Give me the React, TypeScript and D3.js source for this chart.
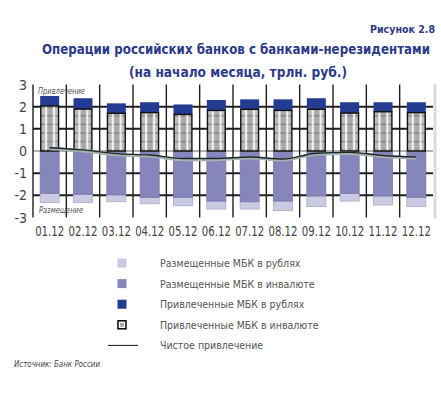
import React from "react";
import * as d3 from "d3";

// данные на начало месяца, трлн руб.
const months = ["01.12", "02.12", "03.12", "04.12", "05.12", "06.12", "07.12", "08.12", "09.12", "10.12", "11.12", "12.12"];
const attractedFx = [2.03, 1.89, 1.7, 1.73, 1.65, 1.83, 1.88, 1.83, 1.88, 1.71, 1.77, 1.73];
const attractedRub = [0.45, 0.49, 0.45, 0.47, 0.45, 0.47, 0.45, 0.5, 0.5, 0.49, 0.43, 0.47];
const placedFx = [-1.91, -1.95, -1.98, -2.1, -2.1, -2.26, -2.29, -2.26, -2.03, -1.91, -2.03, -2.1];
const placedRub = [-0.41, -0.37, -0.31, -0.28, -0.37, -0.36, -0.33, -0.43, -0.48, -0.35, -0.41, -0.41];
const netAttracted = [0.15, 0.05, -0.12, -0.18, -0.34, -0.34, -0.27, -0.36, -0.1, -0.06, -0.2, -0.27];
const yTicks = [3, 2, 1, 0, -1, -2, -3];
const legendLabels = [
  "Размещенные МБК в рублях",
  "Размещенные МБК в инвалюте",
  "Привлеченные МБК в рублях",
  "Привлеченные МБК в инвалюте",
  "Чистое привлечение",
];

const NAVY = "#2c3a8a";
const BLUE = "#233b91";
const PURPLE = "#8686bd";
const LIGHT = "#cacae2";
const FONT = "'DejaVu Sans Condensed', 'Liberation Sans Narrow', 'Arial Narrow', sans-serif";

export default function App() {
  const left = 33;
  const right = 433;
  const top = 84.5;
  const bottom = 217.5;

  const x = d3.scaleBand().domain(months).range([left, right]).paddingInner(0).paddingOuter(0);
  const y = d3.scaleLinear().domain([-3, 3]).range([bottom, top]);
  const bw = 19;
  const bx = (m: string) => (x(m) as number) + (x.bandwidth() - bw) / 2;
  const cx = (m: string) => (x(m) as number) + x.bandwidth() / 2;

  const line = d3
    .line<number>()
    .x((_, i) => cx(months[i]))
    .y((d) => y(d))
    .curve(d3.curveMonotoneX);
  const netPath = line(netAttracted) || "";

  const bounds = x.domain().map((m) => x(m) as number).concat([right]);

  return (
    <svg width={441} height={393} style={{ position: "absolute", left: 0, top: 0, background: "#fff" }}>
      <defs>
        <pattern id="fxPat" patternUnits="userSpaceOnUse" x={bx(months[0])} y={0} width={x.step()} height={8.6}>
          <rect x={0} y={0} width={x.step()} height={8.6} fill="#bcbcbc" />
          <rect x={8} y={0} width={4} height={8.6} fill="#a8a8a8" />
          <line x1={0} x2={bw} y1={4} y2={4} stroke="#7a7a7a" strokeWidth={1.1} />
          <rect x={5} y={0} width={1.8} height={8.6} fill="#f6f6f6" />
          <rect x={13} y={0} width={1.8} height={8.6} fill="#f6f6f6" />
        </pattern>
      </defs>

      {/* заголовок */}
      <text x={435} y={33} textAnchor="end" fill={NAVY} fontFamily={FONT} fontWeight="bold" fontSize={10.5} textLength={65} lengthAdjust="spacingAndGlyphs">
        Рисунок 2.8
      </text>
      <text x={236} y={54} textAnchor="middle" fill={NAVY} fontFamily={FONT} fontWeight="bold" fontSize={13.5} textLength={388} lengthAdjust="spacingAndGlyphs">
        Операции российских банков с банками-нерезидентами
      </text>
      <text x={238} y={77} textAnchor="middle" fill={NAVY} fontFamily={FONT} fontWeight="bold" fontSize={14} textLength={218} lengthAdjust="spacingAndGlyphs">
        (на начало месяца, трлн. руб.)
      </text>

      {/* сетка */}
      {yTicks.filter((t) => t !== 0 && Math.abs(t) !== 3).map((t) => (
        <line key={"h" + t} x1={left} x2={right} y1={y(t)} y2={y(t)} stroke="#1e1e1e" strokeWidth={2} />
      ))}
      <line x1={left} x2={right} y1={y(0)} y2={y(0)} stroke="#666" strokeWidth={1} />
      {bounds.slice(1, -1).map((b, i) => (
        <line key={"v" + i} x1={b} x2={b} y1={top} y2={bottom} stroke="#1e1e1e" strokeWidth={1.4} />
      ))}
      <line x1={left} x2={left} y1={top} y2={bottom} stroke="#1e1e1e" strokeWidth={1.4} />
      <rect x={right + 0.5} y={top} width={3} height={bottom - top + 1} fill="#dcdcdc" />

      {/* столбцы */}
      {months.map((m, i) => {
        const xb = bx(m);
        const fxTop = y(attractedFx[i]);
        const rubTop = y(attractedFx[i] + attractedRub[i]);
        const pfx = y(placedFx[i]);
        const prub = y(placedFx[i] + placedRub[i]);
        return (
          <g key={m}>
            <rect x={xb} y={pfx} width={bw} height={prub - pfx} fill={LIGHT} stroke="#ababcb" strokeWidth={0.8} />
            <rect x={xb} y={y(0)} width={bw} height={pfx - y(0)} fill={PURPLE} stroke="#7878ae" strokeWidth={0.8} />
            <rect x={xb} y={rubTop} width={bw} height={fxTop - rubTop} fill={BLUE} />
            <rect x={xb + 0.6} y={fxTop} width={bw - 1.2} height={y(0) - fxTop} fill="url(#fxPat)" stroke="#111" strokeWidth={1.4} />
          </g>
        );
      })}

      {/* чистое привлечение */}
      <path d={netPath} fill="none" stroke="#a9b1b1" strokeWidth={3.2} transform="translate(0,1)" />
      <path d={netPath} fill="none" stroke="#1b2a2a" strokeWidth={1.4} />

      {/* подписи внутри области */}
      <text x={38} y={94} fill="#555" fontFamily={FONT} fontStyle="italic" fontSize={9.5} textLength={47} lengthAdjust="spacingAndGlyphs">
        Привлечение
      </text>
      <text x={39} y={213} fill="#555" fontFamily={FONT} fontStyle="italic" fontSize={9.5} textLength={44} lengthAdjust="spacingAndGlyphs">
        Размещение
      </text>

      {/* оси */}
      {yTicks.map((t) => (
        <text key={"yl" + t} x={27} y={y(t) + 5} textAnchor="end" fill="#444" fontFamily={FONT} fontSize={14}>
          {t}
        </text>
      ))}
      {months.map((m) => (
        <text key={"xl" + m} x={cx(m)} y={236} textAnchor="middle" fill="#444" fontFamily={FONT} fontSize={13.5} textLength={29} lengthAdjust="spacingAndGlyphs">
          {m}
        </text>
      ))}

      {/* легенда */}
      {legendLabels.map((l, i) => {
        const ly = 263 + i * 20.6;
        let mark: React.ReactNode = null;
        if (i === 0) mark = <rect x={117.5} y={ly - 4.5} width={9} height={9} fill={LIGHT} />;
        if (i === 1) mark = <rect x={117.5} y={ly - 4.5} width={9} height={9} fill={PURPLE} />;
        if (i === 2) mark = <rect x={117.5} y={ly - 4.5} width={9} height={9} fill={BLUE} />;
        if (i === 3)
          mark = (
            <g>
              <rect x={118} y={ly - 4} width={8} height={8} fill="#fff" stroke="#111" strokeWidth={1.6} />
              <rect x={120} y={ly - 2} width={4} height={4} fill="#aaa" />
            </g>
          );
        if (i === 4) mark = <line x1={108} x2={138} y1={ly} y2={ly} stroke="#111" strokeWidth={1} />;
        return (
          <g key={l}>
            {mark}
            <text x={160} y={ly + 4} fill="#555" fontFamily={FONT} fontSize={10.5}>
              {l}
            </text>
          </g>
        );
      })}

      <text x={14} y={367} fill="#444" fontFamily={FONT} fontStyle="italic" fontSize={8.5} textLength={86} lengthAdjust="spacingAndGlyphs">
        Источник: Банк России
      </text>
    </svg>
  );
}
